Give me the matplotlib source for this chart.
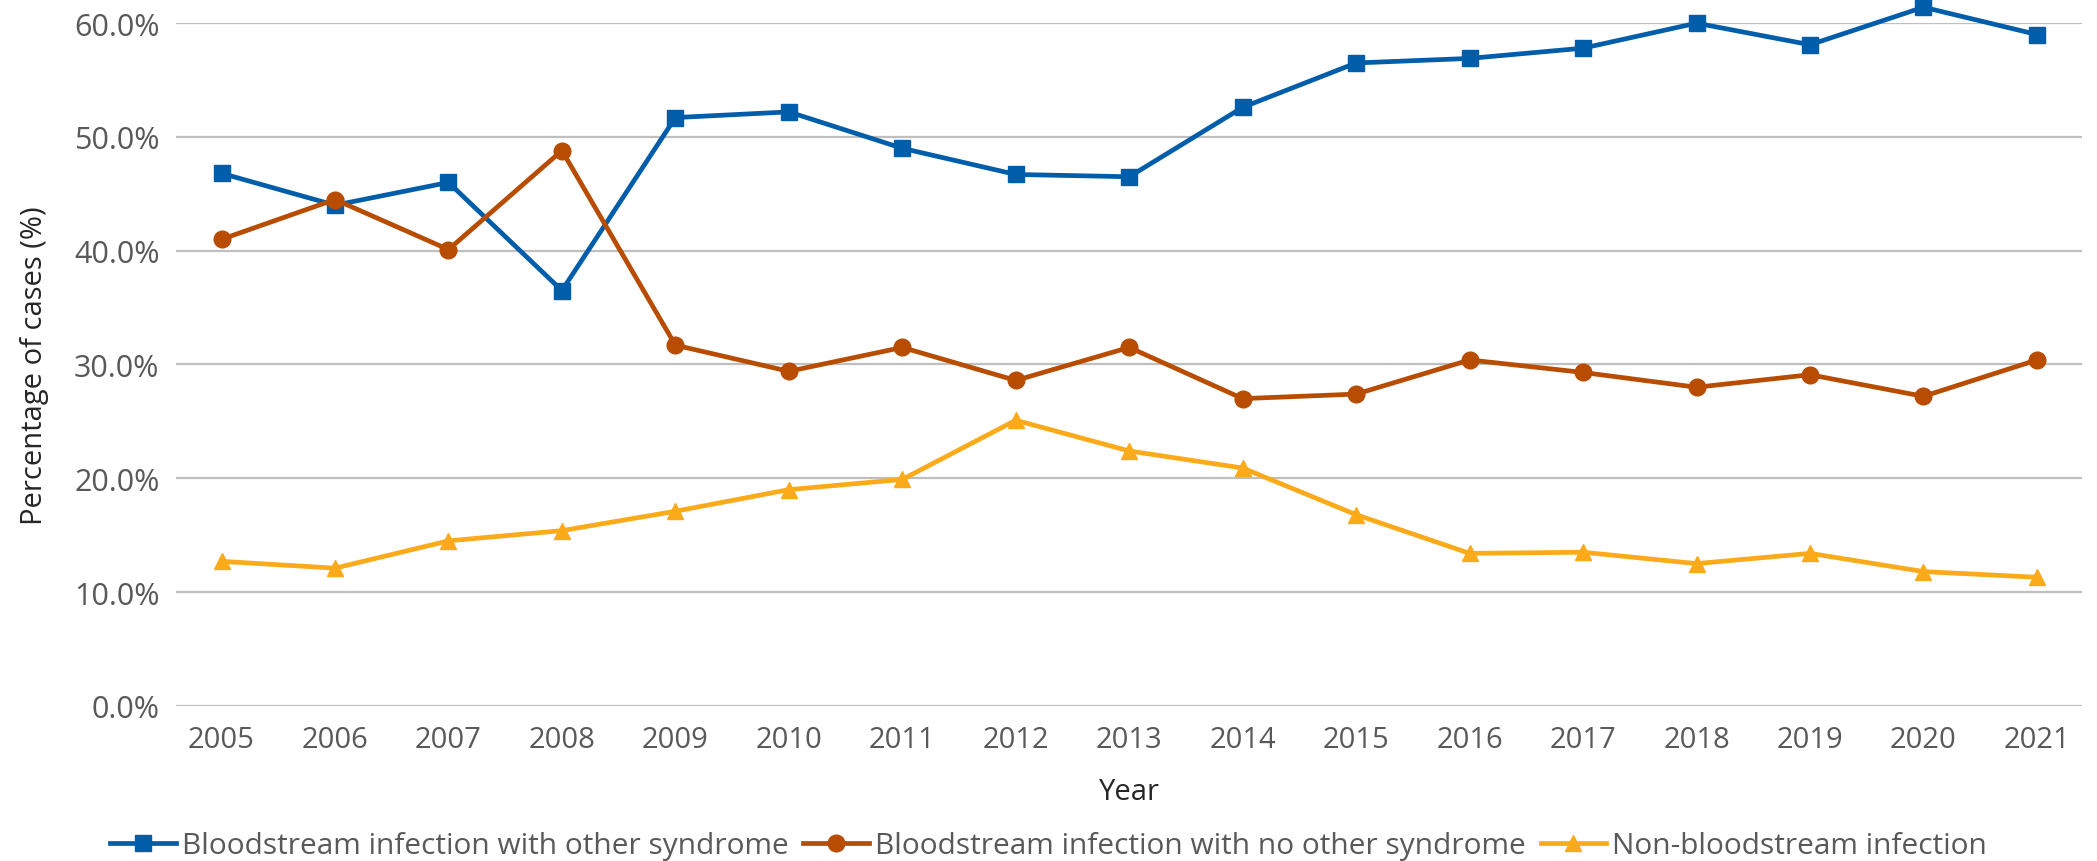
import matplotlib.pyplot as plt
from matplotlib.ticker import FuncFormatter

years = ['2005', '2006', '2007', '2008', '2009', '2010', '2011', '2012', '2013',
         '2014', '2015', '2016', '2017', '2018', '2019', '2020', '2021']

bsi_other = [46.8, 44.0, 46.0, 36.5, 51.7, 52.2, 49.0, 46.7, 46.5,
             52.6, 56.5, 56.9, 57.8, 60.0, 58.1, 61.4, 59.0]
bsi_no_other = [41.0, 44.5, 40.1, 48.8, 31.7, 29.4, 31.5, 28.6, 31.5,
                27.0, 27.4, 30.4, 29.3, 28.0, 29.1, 27.2, 30.4]
non_bsi = [12.7, 12.1, 14.5, 15.4, 17.1, 19.0, 19.9, 25.1, 22.4,
           20.9, 16.8, 13.4, 13.5, 12.5, 13.4, 11.8, 11.3]

labels = ['Bloodstream infection with other syndrome',
          'Bloodstream infection with no other syndrome',
          'Non-bloodstream infection']

plt.rcParams['font.family'] = ['Open Sans', 'DejaVu Sans']

fig = plt.figure(figsize=(20.97, 8.62), dpi=100)
ax = fig.add_axes([0.084, 0.18, 0.909, 0.792])

x = list(range(len(years)))
ax.plot(x, bsi_other, color='#005DA9', lw=3.4, marker='s', ms=12,
        label=labels[0], clip_on=False, zorder=3)
ax.plot(x, bsi_no_other, color='#B84C00', lw=3.4, marker='o', ms=12,
        label=labels[1], clip_on=False, zorder=3)
ax.plot(x, non_bsi, color='#FBAA19', lw=3.4, marker='^', ms=12,
        label=labels[2], clip_on=False, zorder=3)

ax.set_ylim(0, 60)
ax.set_yticks([0, 10, 20, 30, 40, 50, 60])
ax.yaxis.set_major_formatter(FuncFormatter(lambda v, p: f'{v:.1f}%'))
ax.set_xlim(-0.4, len(years) - 0.6)
ax.set_xticks(x)
ax.set_xticklabels(years)

ax.grid(axis='y', color='#BFBFBF', lw=1.6)
ax.set_axisbelow(True)
for s in ['top', 'right', 'left', 'bottom']:
    ax.spines[s].set_visible(False)
ax.tick_params(axis='both', length=0, labelsize=21, labelcolor='#595959')
ax.tick_params(axis='y', labelsize=22, pad=12)
ax.tick_params(axis='x', pad=14)

ax.set_xlabel('Year', fontsize=21, color='#262626', labelpad=16)
ax.set_ylabel('Percentage of cases (%)', fontsize=21, color='#262626', labelpad=18)

fig.legend(loc='center', bbox_to_anchor=(0.5, 0.018), ncol=3, frameon=False,
           fontsize=21.5, labelcolor='#595959', handlelength=2.2, handletextpad=0.2,
           columnspacing=0.5)

fig.savefig('out.png', dpi=100)
